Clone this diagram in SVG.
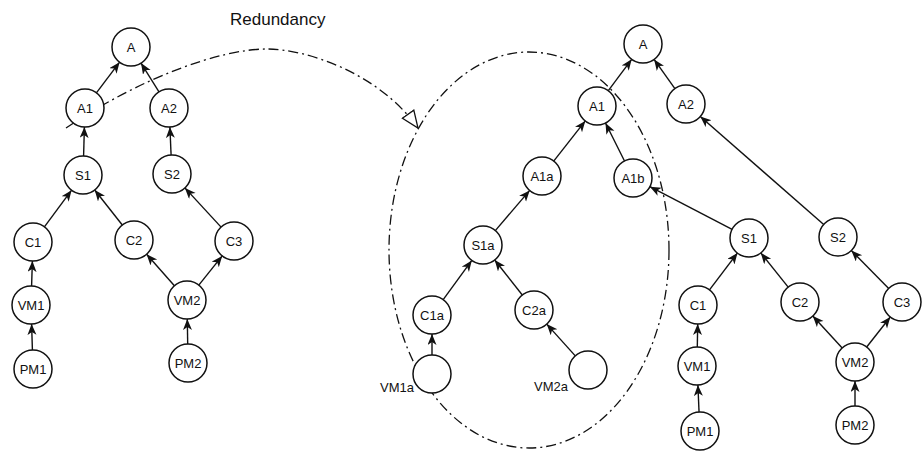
<svg xmlns="http://www.w3.org/2000/svg" width="923" height="451" viewBox="0 0 923 451">
<style>
.n circle{fill:#fff;stroke:#111;stroke-width:1.5}
.n text{font-family:"Liberation Sans",Arial,sans-serif;font-size:13px;fill:#111;text-anchor:middle}
.lbl{font-family:"Liberation Sans",Arial,sans-serif;font-size:13px;fill:#111}
#edges line{stroke:#111;stroke-width:1.4;marker-end:url(#ah)}
.dd{fill:none;stroke:#111;stroke-width:1.3;stroke-dasharray:10 4 2 4}
</style>
<defs>
<marker id="ah" markerUnits="userSpaceOnUse" markerWidth="12" markerHeight="10" refX="11" refY="4.5" orient="auto">
<path d="M0,0 L11,4.5 L0,9 L3,4.5 Z" fill="#111"/>
</marker>
<marker id="tri" markerUnits="userSpaceOnUse" markerWidth="20" markerHeight="18" refX="18" refY="8" orient="auto">
<path d="M1,1 L18,8 L1,15 Z" fill="#fff" stroke="#111" stroke-width="1.3"/>
</marker>
</defs>
<rect width="923" height="451" fill="#fff"/>
<text x="230" y="25" font-family="'Liberation Sans',Arial,sans-serif" font-size="17" fill="#111">Redundancy</text>
<g id="redundancy-group">
<ellipse class="dd" cx="529" cy="250" rx="140" ry="198"/>
<path class="dd" d="M66 128 C140 78, 220 49, 267 49 C305 49, 378 72, 418 128" marker-end="url(#tri)"/>
</g>
<g id="edges">
<line x1="96.4" y1="92.8" x2="119.6" y2="62.2"/>
<line x1="159" y1="91.9" x2="141" y2="63.1"/>
<line x1="83.6" y1="156" x2="84.4" y2="127"/>
<line x1="171.1" y1="155" x2="169.9" y2="127"/>
<line x1="44.4" y1="226.8" x2="71.6" y2="190.2"/>
<line x1="122.3" y1="225" x2="94.7" y2="190"/>
<line x1="221.1" y1="227.1" x2="184.9" y2="187.9"/>
<line x1="31.6" y1="286" x2="32.4" y2="261"/>
<line x1="174.4" y1="285.8" x2="146.6" y2="254.2"/>
<line x1="198.8" y1="285.1" x2="222.2" y2="255.9"/>
<line x1="32.4" y1="350" x2="31.6" y2="324"/>
<line x1="187.7" y1="344" x2="187.3" y2="319"/>
<line x1="553.7" y1="161.1" x2="585.3" y2="120.9"/>
<line x1="624.5" y1="161" x2="605.5" y2="123"/>
<line x1="495.3" y1="230.6" x2="529.7" y2="190.4"/>
<line x1="443.2" y1="299.6" x2="471.8" y2="260.4"/>
<line x1="522.3" y1="295" x2="494.7" y2="260"/>
<line x1="432" y1="355" x2="432" y2="334"/>
<line x1="575.3" y1="355.9" x2="546.7" y2="324.1"/>
<line x1="608.3" y1="90.7" x2="631.7" y2="59.3"/>
<line x1="674.9" y1="88.6" x2="654.1" y2="59.4"/>
<line x1="732.1" y1="229.3" x2="649.9" y2="186.7"/>
<line x1="823.7" y1="224.5" x2="700.3" y2="116.5"/>
<line x1="709.5" y1="289.9" x2="737.5" y2="252.9"/>
<line x1="788.2" y1="287.1" x2="760.8" y2="252.9"/>
<line x1="888.7" y1="288.5" x2="851.3" y2="250.5"/>
<line x1="697.3" y1="347" x2="697.7" y2="324"/>
<line x1="842.2" y1="348" x2="812.8" y2="316"/>
<line x1="866.7" y1="347" x2="890.3" y2="317"/>
<line x1="699.1" y1="413" x2="697.9" y2="385"/>
<line x1="855" y1="406" x2="855" y2="381"/>
</g>
<g id="L-A" class="n"><circle cx="131" cy="47" r="19"/><text x="131" y="51.5">A</text></g>
<g id="L-A1" class="n"><circle cx="85" cy="108" r="19"/><text x="85" y="112.5">A1</text></g>
<g id="L-A2" class="n"><circle cx="169" cy="108" r="19"/><text x="169" y="112.5">A2</text></g>
<g id="L-S1" class="n"><circle cx="83" cy="175" r="19"/><text x="83" y="179.5">S1</text></g>
<g id="L-S2" class="n"><circle cx="172" cy="174" r="19"/><text x="172" y="178.5">S2</text></g>
<g id="L-C1" class="n"><circle cx="33" cy="242" r="19"/><text x="33" y="246.5">C1</text></g>
<g id="L-C2" class="n"><circle cx="134" cy="240" r="19"/><text x="134" y="244.5">C2</text></g>
<g id="L-C3" class="n"><circle cx="234" cy="241" r="19"/><text x="234" y="245.5">C3</text></g>
<g id="L-VM1" class="n"><circle cx="31" cy="305" r="19"/><text x="31" y="309.5">VM1</text></g>
<g id="L-VM2" class="n"><circle cx="187" cy="300" r="19"/><text x="187" y="304.5">VM2</text></g>
<g id="L-PM1" class="n"><circle cx="33" cy="369" r="19"/><text x="33" y="373.5">PM1</text></g>
<g id="L-PM2" class="n"><circle cx="188" cy="363" r="19"/><text x="188" y="367.5">PM2</text></g>
<g id="M-A1" class="n"><circle cx="597" cy="106" r="19"/><text x="597" y="110.5">A1</text></g>
<g id="M-A1a" class="n"><circle cx="542" cy="176" r="19"/><text x="542" y="180.5">A1a</text></g>
<g id="M-A1b" class="n"><circle cx="633" cy="178" r="19"/><text x="633" y="182.5">A1b</text></g>
<g id="M-S1a" class="n"><circle cx="483" cy="245" r="19"/><text x="483" y="249.5">S1a</text></g>
<g id="M-C1a" class="n"><circle cx="432" cy="315" r="19"/><text x="432" y="319.5">C1a</text></g>
<g id="M-C2a" class="n"><circle cx="534" cy="310" r="19"/><text x="534" y="314.5">C2a</text></g>
<g id="M-VM1a" class="n"><circle cx="432" cy="374" r="19"/></g>
<text class="lbl" x="414" y="392" text-anchor="end">VM1a</text>
<g id="M-VM2a" class="n"><circle cx="588" cy="370" r="19"/></g>
<text class="lbl" x="568" y="391" text-anchor="end">VM2a</text>
<g id="R-A" class="n"><circle cx="643" cy="44" r="19"/><text x="643" y="48.5">A</text></g>
<g id="R-A2" class="n"><circle cx="686" cy="104" r="19"/><text x="686" y="108.5">A2</text></g>
<g id="R-S1" class="n"><circle cx="749" cy="238" r="19"/><text x="749" y="242.5">S1</text></g>
<g id="R-S2" class="n"><circle cx="838" cy="237" r="19"/><text x="838" y="241.5">S2</text></g>
<g id="R-C1" class="n"><circle cx="698" cy="305" r="19"/><text x="698" y="309.5">C1</text></g>
<g id="R-C2" class="n"><circle cx="800" cy="302" r="19"/><text x="800" y="306.5">C2</text></g>
<g id="R-C3" class="n"><circle cx="902" cy="302" r="19"/><text x="902" y="306.5">C3</text></g>
<g id="R-VM1" class="n"><circle cx="697" cy="366" r="19"/><text x="697" y="370.5">VM1</text></g>
<g id="R-VM2" class="n"><circle cx="855" cy="362" r="19"/><text x="855" y="366.5">VM2</text></g>
<g id="R-PM1" class="n"><circle cx="700" cy="431" r="19"/><text x="700" y="435.5">PM1</text></g>
<g id="R-PM2" class="n"><circle cx="855" cy="425" r="19"/><text x="855" y="429.5">PM2</text></g>
</svg>
